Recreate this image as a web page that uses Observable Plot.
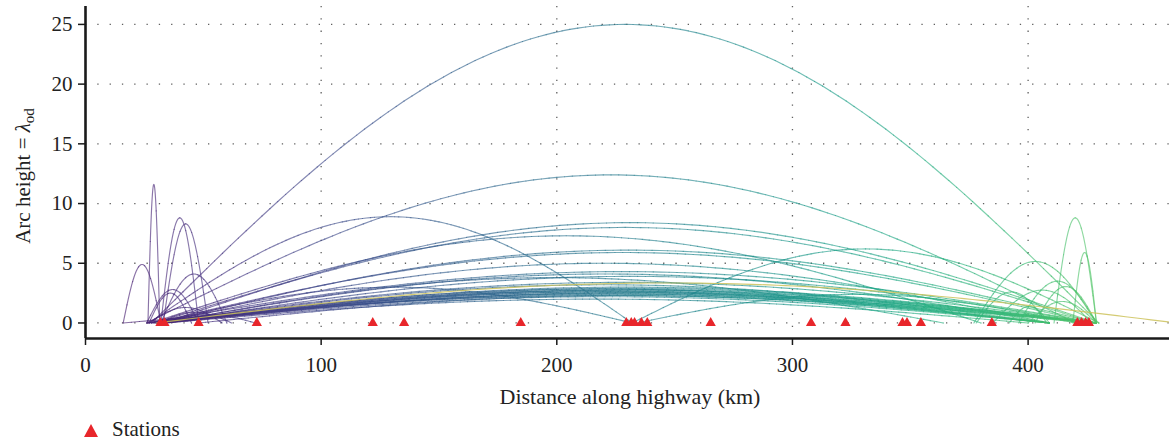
<!DOCTYPE html>
<html><head><meta charset="utf-8">
<script src="https://cdn.jsdelivr.net/npm/d3@7"></script>
<script src="https://cdn.jsdelivr.net/npm/@observablehq/plot@0.6"></script>
<style>
body{margin:0;background:#fff;font-family:"Liberation Serif",serif;}
#legend{position:relative;height:33px;width:1169px;}
#legend svg{position:absolute;left:84px;top:12px;}
#legend span{position:absolute;left:112px;top:5px;font-size:21px;color:#222;}
</style></head><body>
<div id="chart"></div>
<div id="legend"><svg width="14" height="13"><polygon points="7,0 14,13 0,13" fill="#e8262b"/></svg><span>Stations</span></div>
<script>
// Station positions (km along highway)
const stationKm = [31.8, 33.5, 48, 72.7, 121.9, 135.2, 184.7, 229.5, 231.6, 233, 235.9, 238.4, 265.3, 307.9, 322.5, 346.7, 348.6, 354.5, 384.6, 420.9, 422.7, 424.4, 425.8];

// Arcs: origin km, destination km, arc height (lambda_od)
const arcFrom = [16, 26.5, 32, 33, 32, 26, 27, 27, 31, 33,
  28, 26, 33, 30, 32, 29, 31, 26, 32, 33, 28, 31, 30, 32, 27, 33, 31, 26, 32, 30, 34, 31, 33, 29, 16, 32, 34, 48,
  27, 30, 28, 33, 232, 234,
  411, 419, 377, 396, 403, 378, 385, 392, 400];
const arcTo = [32, 31.5, 48, 52, 60, 48, 45, 58, 62, 72,
  430, 420, 429, 428, 429, 427, 409, 429, 409, 429, 429, 409, 429, 429, 409, 429, 429, 409, 427, 409, 429, 425, 409, 429, 429, 409, 400, 409,
  232, 232, 380, 364, 430, 420,
  429, 429, 429, 429, 429, 408, 427, 409, 429];
const arcHeight = [4.9, 11.6, 8.8, 8.3, 4.1, 2.8, 2.5, 1.3, 0.9, 0.7,
  25, 12.4, 8.4, 8.0, 6.1, 5.9, 5.0, 4.3, 4.1, 3.9, 3.4, 3.2, 3.0, 2.9, 2.85, 2.8, 2.75, 2.7, 2.65, 2.6, 2.55, 2.5, 2.45, 2.4, 2.3, 2.2, 2.0, 2.3,
  8.9, 3.0, 7.3, 3.8, 6.2, 2.4,
  8.8, 5.9, 5.15, 3.5, 3.05, 2.6, 2.75, 1.4, 1.8];

// One arc drawn in a distinct yellow
const oddFrom = [30];
const oddTo = [463];
const oddHeight = [3.35];

const yTicks = [0, 5, 10, 15, 20, 25];
const xTicks = [0, 100, 200, 300, 400];

// Build arc geometry (half-sine shape between origin and destination)
function arcPoints(from, to, height) {
  const pts = [];
  const N = 120;
  from.forEach((a, i) => {
    const b = to[i], h = height[i];
    for (let k = 0; k <= N; k++) {
      const t = k / N;
      pts.push({id: i, x: a + (b - a) * t, y: h * Math.sin(Math.PI * t)});
    }
  });
  return pts;
}
const arcs = arcPoints(arcFrom, arcTo, arcHeight);
const oddArcs = arcPoints(oddFrom, oddTo, oddHeight);

const W = 1169, H = 412;
const plot = Plot.plot({
  width: W, height: H,
  marginLeft: 85, marginRight: 0, marginTop: 6, marginBottom: 74,
  style: {fontFamily: "Liberation Serif, serif", fontSize: "21px", color: "#222", background: "#fff"},
  x: {domain: [0, 460]},
  y: {domain: [-1.3, 26.5]},
  color: {type: "linear", scheme: "viridis", domain: [-40, 600]},
  marks: [
    Plot.gridY(yTicks, {stroke: "#444", strokeOpacity: 0.85, strokeWidth: 1.3, strokeDasharray: "1.3,11"}),
    Plot.gridX([100, 200, 300, 400], {stroke: "#444", strokeOpacity: 0.85, strokeWidth: 1.3, strokeDasharray: "1.3,11"}),
    Plot.line(arcs, {x: "x", y: "y", z: "id", stroke: "x", strokeWidth: 1.15, strokeOpacity: 0.64}),
    Plot.line(oddArcs, {x: "x", y: "y", z: "id", stroke: "#cdc25a", strokeWidth: 1.15, strokeOpacity: 0.85, clip: true}),
    Plot.dot(stationKm, {x: d => d, y: 0, symbol: "triangle", r: 3.8, fill: "#e8262b", stroke: "none"}),
    Plot.axisY({ticks: yTicks, tickSize: 7, tickPadding: 6, label: null, stroke: "#1a1a1a", strokeWidth: 1.5}),
    Plot.axisX({ticks: xTicks, tickSize: 7, tickPadding: 12, label: null, stroke: "#1a1a1a", strokeWidth: 1.5}),
    Plot.ruleX([0], {stroke: "#1a1a1a", strokeWidth: 2.6}),
    Plot.ruleY([-1.3], {stroke: "#1a1a1a", strokeWidth: 2.6})
  ]
});
document.getElementById("chart").appendChild(plot);

const svg = d3.select(plot);
const yl = svg.append("text")
  .attr("transform", "translate(30,176) rotate(-90)")
  .attr("text-anchor", "middle")
  .attr("font-size", 21).attr("fill", "#222");
yl.append("tspan").text("Arc height = ");
yl.append("tspan").attr("font-style", "italic").text("λ");
yl.append("tspan").attr("font-size", 15).attr("dy", 4).text("od");

svg.append("text")
  .attr("x", 630).attr("y", 404)
  .attr("text-anchor", "middle")
  .attr("font-size", 22).attr("fill", "#222")
  .text("Distance along highway (km)");
</script>
</body></html>
